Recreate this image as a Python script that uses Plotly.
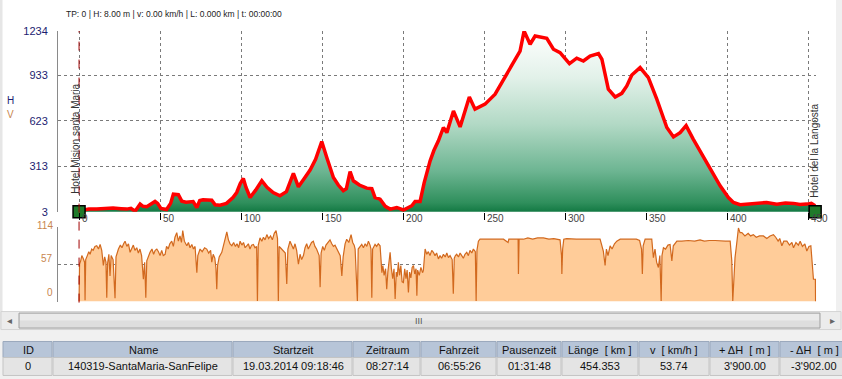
import plotly.graph_objects as go

W, H = 842, 379

# ---------------- data ----------------
elev_km = [0, 3.7, 6, 10.9, 16, 21, 26, 29.4, 32, 34.6, 37.7, 39.5, 41.8, 44, 46.9, 48.5, 50.5, 54, 56.5, 58.2,
           61.3, 63.4, 66, 70.4, 72.7, 74.5, 76.5, 81.9, 84, 87, 91, 95, 97.3, 99.5, 101.4, 103, 105.6, 109,
           112.8, 116, 119.8, 124, 128, 132.3, 135.4, 139, 142.6, 146, 149.8, 152.9, 157, 160, 163.1, 165,
           167.3, 169.3, 173, 177.6, 180.7, 182.7, 185.8, 189, 192, 196.1, 200.2, 205.4, 207.4, 210.5, 213,
           216.7, 219, 221.8, 224.9, 227, 231.1, 235.2, 240.9, 244.4, 250.6, 256.8, 261.9, 265, 268.1, 272.2,
           274.7, 278.4, 281.5, 285, 288.7, 292.8, 296.9, 302.7, 307.2, 311.3, 315.4, 320.6, 322.7, 326.7,
           330.9, 335, 338.1, 341.2, 346.3, 351.4, 356.6, 362.8, 366.9, 371, 374.7, 379, 383.3, 389.5, 395.7,
           400.8, 403.9, 408, 412.1, 418.3, 424.4, 430.7, 436, 441, 445, 449.2, 452, 454.35]
elev_m = [8, 13, 22, 21, 25, 28, 24, 21, 26, 6, 55, 40, 37, 50, 73, 60, 25, 18, 60, 123,
          119, 75, 68, 72, 32, 80, 84, 82, 50, 48, 60, 100, 134, 195, 230, 170, 100, 150,
          214, 170, 134, 112, 140, 264, 173, 230, 287, 360, 481, 372, 236, 185, 146, 160,
          277, 214, 185, 164, 160, 100, 89, 40, 21, 32, 15, 44, 73, 73, 200,
          350, 420, 486, 577, 542, 690, 581, 785, 702, 736, 804, 900, 960, 1019, 1098,
          1234, 1144, 1200, 1195, 1185, 1110, 1087, 1012, 1049, 1030, 1064, 1080, 1042, 838,
          785, 810, 860, 935, 985, 917, 770, 577, 513, 542, 590, 500, 418, 305, 180,
          100, 66, 51, 55, 60, 66, 55, 62, 60, 52, 55, 60, 44]

speed_km = [0, 0.3, 1, 1.7, 2.5, 3.4, 3.7, 4.1, 5.1, 6, 6.8, 7.8, 8.7, 9.8, 10.9, 12, 13, 14, 15, 15.8, 16.6,
            17.1, 17.6, 18.4, 19.1, 19.8, 21, 22.2, 22.8, 23.6, 24.3, 25.5, 26.5, 27.5, 28.4, 29.5, 30.5, 31.5,
            32.5, 33.5, 34.5, 35.6, 36.6, 37.6, 38.6, 39.7, 40.5, 41.2, 41.8, 42.8, 43.8, 45, 46, 47, 48, 49,
            50, 51, 52, 53.1, 54, 55, 56, 57.2, 58.2, 59.2, 60.3, 61.3, 62.3, 63.2, 64, 65, 66.5, 67.5, 68.5,
            69.6, 70.6, 71.6, 72.2, 72.7, 73.3, 74.7, 76, 77.5, 78.8, 80, 81.2, 81.9, 82.8, 83.8, 84.5, 85,
            85.5, 86.5, 88.1, 89.2, 90.2, 91.2, 92.2, 93.2, 94.3, 95.4, 96.5, 97.5, 98.5, 99.4, 100.5, 101.5,
            102.5, 103.5, 104.5, 105.5, 106.5, 107.6, 108.6, 109.6, 110.1, 110.6, 111.7, 112.8, 113.8, 114.8,
            115.9, 117, 118.2, 119.3, 120.5, 121.6, 122.5, 123, 123.5, 124.3, 125.1, 126.2, 127.3, 128.2,
            128.9, 130.2, 131.2, 132.3, 133.3, 134.3, 135.4, 136.4, 137.4, 138.5, 139.5, 140.5, 141.5, 142.5,
            143.5, 144.6, 145.6, 146.6, 147.6, 148.2, 148.8, 149.4, 150.4, 151.4, 152.4, 153.6, 154.9, 156,
            157, 158, 159.1, 160.2, 161.2, 162.2, 163, 164.2, 165.2, 166.5, 167.9, 168.9, 169.8, 170.4, 171.8,
            172.3, 173.4, 174.5, 175.5, 176.6, 177.6, 178.6, 179.6, 180.2, 180.7, 181.2, 182.7, 183.7, 184.7,
            185.8, 186.5, 186.9, 187.5, 188.3, 189.2, 189.9, 190.6, 191.3, 192, 192.8, 193.6, 194.4, 195.1,
            195.8, 196.4, 197.1, 197.8, 198.6, 199.4, 200.2, 201, 201.8, 202.5, 203.3, 204, 204.8, 205.6,
            206.4, 207.2, 208, 208.5, 209, 210, 211, 212, 212.5, 213.6, 214.6, 215.6, 216.6, 217.7, 218.7,
            219.7, 220.7, 221.8, 222.8, 223.8, 224.9, 226, 227, 228, 229, 230.3, 231, 231.6, 232.3, 233.1,
            234.2, 235.2, 236.2, 237.2, 238.2, 239.3, 240.3, 241.3, 242.4, 243.4, 244.6, 245.1, 245.6, 246.5,
            247.5, 250, 253, 256, 259.9, 262, 264.8, 265.3, 268, 271, 271.2, 271.6, 274.3, 277, 280, 283,
            286.6, 290, 293, 296.9, 297.8, 298, 298.5, 299.2, 301, 304, 307, 310, 312.3, 315, 318, 321.6,
            323.6, 324.7, 325.5, 326.5, 327.8, 329, 330.5, 331.9, 334, 337, 340, 342.2, 344, 346, 347.2,
            347.7, 348.2, 349.4, 351, 353.5, 354.5, 355.5, 356.5, 357.6, 358.5, 359.3, 359.8, 360.7, 362,
            363.5, 364.8, 365.9, 366.8, 368, 369, 372, 376, 380, 383.3, 386, 389, 392.6, 396, 399, 401.9,
            402.9, 403.5, 404.2, 404.9, 406, 407, 408, 409.1, 411, 413, 414.5, 416.2, 418, 420, 422.4, 424.5,
            426.5, 428.6, 430, 431.5, 432.5, 433.8, 435, 436.9, 438.5, 440, 441, 442.5, 444, 445.1, 446.5,
            448, 449.2, 450.5, 451.7, 452.2, 452.5, 453.3, 454.5, 454.6]
speed_kmh = [0, 57, 62, 70, 66, 60, 2, 64, 70, 76, 72, 80, 78, 84, 85, 80, 87, 78, 55, 68, 60,
             6, 58, 72, 39, 70, 64, 5, 68, 76, 80, 86, 82, 88, 92, 84, 88, 75,
             80, 86, 78, 82, 74, 80, 70, 34, 60, 6, 62, 70, 75, 80, 72, 78, 80, 76,
             70, 78, 70, 72, 84, 80, 88, 92, 84, 98, 105, 92, 100, 90, 108, 92, 85, 90, 82,
             87, 80, 84, 60, 44, 70, 80, 76, 82, 80, 74, 78, 60, 72, 66, 50, 19,
             55, 68, 75, 88, 96, 106, 94, 88, 85, 90, 84, 88, 82, 92, 86, 90,
             82, 85, 88, 80, 86, 87, 82, 84, 1, 86, 97, 92, 98, 94,
             102, 96, 100, 94, 104, 108, 96, 1, 84, 82, 80, 78, 74, 27,
             80, 92, 86, 80, 88, 78, 57, 72, 64, 70, 82, 88, 80, 86,
             90, 92, 84, 80, 74, 70, 22, 74, 84, 78, 86, 90, 94, 88,
             84, 86, 80, 76, 70, 39, 68, 88, 95, 90, 102, 90, 86, 80, 1,
             80, 84, 87, 82, 88, 84, 92, 86, 80, 6, 80, 87, 84, 88,
             85, 60, 44, 55, 40, 50, 19, 45, 60, 75, 50, 35, 50, 4,
             45, 38, 60, 40, 55, 30, 29, 50, 35, 48, 14, 45, 36, 52,
             55, 42, 50, 9, 48, 40, 52, 44, 47, 80, 72, 76, 70, 78, 75,
             70, 74, 65, 70, 66, 72, 68, 74, 67, 70, 64, 12, 66, 70, 72,
             68, 74, 70, 66, 72, 75, 70, 78, 74, 80, 76, 1, 78, 92,
             95, 95, 95, 94, 95, 95, 90, 95, 95, 95, 42, 95, 95, 97, 95, 97,
             97, 95, 96, 94, 70, 42, 80, 95, 96, 95, 95, 95, 95, 95, 95, 95,
             77, 55, 80, 70, 85, 80, 88, 92, 95, 95, 95, 95, 95, 93, 80,
             42, 85, 95, 95, 95, 67, 80, 60, 52, 70, 1, 70, 82, 80,
             86, 87, 62, 85, 88, 92, 92, 93, 92, 94, 92, 93, 93, 92, 92, 92,
             62, 1, 40, 67, 90, 112, 105, 105, 100, 104, 100, 102, 98, 100, 100, 96,
             100, 102, 98, 92, 96, 85, 92, 92, 86, 90, 82, 90, 86, 92, 84,
             88, 77, 84, 85, 70, 57, 34, 34, 0]

x_ticks = [0, 50, 100, 150, 200, 250, 300, 350, 400, 450]
elev_ticks = [3, 313, 623, 933, 1234]
speed_ticks = [0, 57, 114]
track_end_km = 454.353
start_name = "Hotel Mision santa Maria"
end_name = "Hotel del la Langosta"
status_text = "TP: 0 | H: 8.00 m | v: 0.00 km/h | L: 0.000 km | t: 00:00:00"
table_headers = ["ID", "Name", "Startzeit", "Zeitraum", "Fahrzeit", "Pausenzeit",
                 "Länge  [ km ]", "v  [ km/h ]", "+ ΔH  [ m ]", "- ΔH  [ m ]"]
table_row = ["0", "140319-SantaMaria-SanFelipe", "19.03.2014 09:18:46", "08:27:14", "06:55:26",
             "01:31:48", "454.353", "53.74", "3'900.00", "-3'902.00"]

# ---------------- layout helpers (target pixel -> paper) ----------------
# the captured picture is squeezed vertically (~0.97, offset ~5 px); place items so they land
# on their target pixel rows after that squeeze
V_SCALE, V_OFF = 0.970, 4.9

def fx(px):
    return px / W

def fy(py):
    plan = (py - V_OFF) / V_SCALE
    return 1 - plan / H

FONT = "Liberation Sans"
col_edges = [3, 53, 233, 353, 421, 497, 562, 639, 710, 780, 852]
col_text_x = [28, 143, 293, 387, 459, 529, 600, 674, 745, 814]

fig = go.Figure()

# elevation profile
fig.add_trace(go.Scatter(
    x=elev_km, y=elev_m, mode="lines", xaxis="x", yaxis="y",
    line=dict(color="#ff0000", width=3.5),
    fill="tozeroy",
    fillgradient=dict(type="vertical", start=3, stop=1234,
                      colorscale=[[0, "#006b33"], [0.08, "#2f8f5c"], [0.25, "#6db592"],
                                  [0.5, "#b2d9c5"], [0.75, "#e2f1e9"], [1, "#ffffff"]]),
    hoverinfo="skip", showlegend=False))

# start / end markers
fig.add_trace(go.Scatter(
    x=[0, track_end_km], y=[3, 3], mode="markers", xaxis="x", yaxis="y",
    marker=dict(symbol="square", size=12, color="#1f7a2a", line=dict(color="#000000", width=1.5)),
    cliponaxis=False, hoverinfo="skip", showlegend=False))

# speed profile
fig.add_trace(go.Scatter(
    x=speed_km, y=speed_kmh, mode="lines", xaxis="x2", yaxis="y2",
    line=dict(color="#d2691e", width=1.2),
    fill="tozeroy", fillcolor="#ffcc99",
    hoverinfo="skip", showlegend=False))

x_left, x_right_px = 58, 816.2
x_range = [-13, 455]

grid = dict(showgrid=True, gridcolor="#7a7a7a", griddash="dot", gridwidth=1)

fig.update_layout(
    width=W, height=H, autosize=False,
    margin=dict(l=0, r=0, t=0, b=0),
    paper_bgcolor="#ffffff", plot_bgcolor="rgba(0,0,0,0)",
    font=dict(family=FONT, size=11, color="#222222"),
    xaxis=dict(domain=[fx(x_left), fx(x_right_px)], range=x_range, tickvals=x_ticks,
               showticklabels=False, ticks="outside", ticklen=7, tickcolor="#000000",
               zeroline=False, showline=False, anchor="y", fixedrange=True, **grid),
    yaxis=dict(domain=[fy(211), fy(30)], range=[3, 1234], tickvals=elev_ticks,
               tickfont=dict(color="#1c1c70", size=11), ticklabelstandoff=7,
               showline=True, linecolor="#8a8a8a", linewidth=1, zeroline=False,
               anchor="x", fixedrange=True, **grid),
    xaxis2=dict(domain=[fx(x_left), fx(x_right_px)], range=x_range, tickvals=x_ticks[1:],
                matches="x", showticklabels=False, showgrid=False,
                zeroline=False, showline=False, anchor="y2", fixedrange=True),
    yaxis2=dict(domain=[fy(301), fy(226)], range=[0, 114], tickvals=speed_ticks,
                showticklabels=False, showline=True, linecolor="#8a8a8a", linewidth=1,
                zeroline=False, anchor="x2", fixedrange=True, **grid),
)

shapes = []
annotations = []

# left and right grey window borders
shapes.append(dict(type="rect", xref="paper", yref="paper", x0=0, x1=fx(2.5), y0=fy(330), y1=1.05,
                   fillcolor="#e6e6e6", line=dict(width=0), layer="below"))
shapes.append(dict(type="rect", xref="paper", yref="paper", x0=fx(836), x1=1, y0=fy(330), y1=1.05,
                   fillcolor="#f0f0f0", line=dict(width=0), layer="below"))

# start vertical dashed line
shapes.append(dict(type="line", xref="x", yref="paper", x0=0, x1=0, y0=fy(302), y1=fy(30),
                   line=dict(color="#a00000", width=1, dash="dash"), layer="above"))

# x tick labels (to the right of tick marks)
for t in x_ticks:
    annotations.append(dict(x=t, y=fy(218), xref="x", yref="paper", text=str(t), showarrow=False,
                            xanchor="left", yanchor="middle", xshift=1,
                            font=dict(size=10, color="#444444")))

# speed tick labels
for v, py in zip(speed_ticks, [292, 258, 225]):
    annotations.append(dict(x=fx(55), y=fy(py), xref="paper", yref="paper", text=str(v), showarrow=False,
                            xanchor="right", yanchor="middle", font=dict(size=10, color="#c8864e")))

# H / V labels
annotations.append(dict(x=fx(10), y=fy(100), xref="paper", yref="paper", text="H", showarrow=False,
                        xanchor="center", yanchor="middle", font=dict(size=10, color="#1c1c70")))
annotations.append(dict(x=fx(10), y=fy(114), xref="paper", yref="paper", text="V", showarrow=False,
                        xanchor="center", yanchor="middle", font=dict(size=10, color="#c8864e")))

# status text
annotations.append(dict(x=fx(64), y=fy(13), xref="paper", yref="paper", text=status_text, showarrow=False,
                        xanchor="left", yanchor="middle", font=dict(size=8.5, color="#222222")))

# waypoint names
annotations.append(dict(x=fx(76), y=fy(138), xref="paper", yref="paper", text=start_name, showarrow=False,
                        textangle=-90, xanchor="center", yanchor="middle",
                        font=dict(size=10, color="#333333")))
annotations.append(dict(x=fx(815), y=fy(150), xref="paper", yref="paper", text=end_name, showarrow=False,
                        textangle=-90, xanchor="center", yanchor="middle",
                        font=dict(size=10, color="#333333")))

# bottom grey window area
shapes.append(dict(type="rect", xref="paper", yref="paper", x0=0, x1=1, y0=-0.1, y1=fy(329),
                   fillcolor="#f0f0f0", line=dict(width=0), layer="below"))

# scrollbar
shapes.append(dict(type="rect", xref="paper", yref="paper", x0=fx(1), x1=fx(841), y0=fy(329), y1=fy(311),
                   fillcolor="#ececec", line=dict(color="#d4d4d4", width=1), layer="below"))
shapes.append(dict(type="rect", xref="paper", yref="paper", x0=fx(19), x1=fx(820), y0=fy(327.5), y1=fy(312.5),
                   fillcolor="#dedede", line=dict(color="#a0a0a0", width=1), layer="below"))
shapes.append(dict(type="rect", xref="paper", yref="paper", x0=fx(20), x1=fx(819), y0=fy(320), y1=fy(313.5),
                   fillcolor="#eaeaea", line=dict(width=0), layer="below"))
annotations.append(dict(x=fx(419), y=fy(320), xref="paper", yref="paper", text="III", showarrow=False,
                        xanchor="center", yanchor="middle", font=dict(size=9, color="#555555")))
annotations.append(dict(x=fx(9), y=fy(320), xref="paper", yref="paper", text="◂", showarrow=False,
                        xanchor="center", yanchor="middle", font=dict(size=10, color="#666666")))
annotations.append(dict(x=fx(832), y=fy(320), xref="paper", yref="paper", text="▸", showarrow=False,
                        xanchor="center", yanchor="middle", font=dict(size=10, color="#666666")))

# table
for i in range(len(table_headers)):
    x0, x1 = col_edges[i], col_edges[i + 1]
    shapes.append(dict(type="rect", xref="paper", yref="paper", x0=fx(x0), x1=fx(x1 - 1),
                       y0=fy(357), y1=fy(341), fillcolor="#b7c5d8",
                       line=dict(color="#9aa8bc", width=1), layer="below"))
    shapes.append(dict(type="rect", xref="paper", yref="paper", x0=fx(x0), x1=fx(x1 - 1),
                       y0=fy(375), y1=fy(357), fillcolor="#e4e4e4",
                       line=dict(color="#c4c4c4", width=1), layer="below"))
    cx = col_text_x[i]
    annotations.append(dict(x=fx(cx), y=fy(349), xref="paper", yref="paper", text=table_headers[i],
                            showarrow=False, xanchor="center", yanchor="middle",
                            font=dict(size=11, color="#111111")))
    annotations.append(dict(x=fx(cx), y=fy(366), xref="paper", yref="paper", text=table_row[i],
                            showarrow=False, xanchor="center", yanchor="middle",
                            font=dict(size=11, color="#111111")))

fig.update_layout(shapes=shapes, annotations=annotations)

fig.write_html(
    "out.html",
    config={"displayModeBar": False, "staticPlot": True},
    post_script=("document.documentElement.style.margin='0';document.documentElement.style.padding='0';"
                 "document.documentElement.style.overflow='hidden';"
                 "document.body.style.margin='0';document.body.style.padding='0';"
                 "document.body.style.overflow='hidden';"),
)
